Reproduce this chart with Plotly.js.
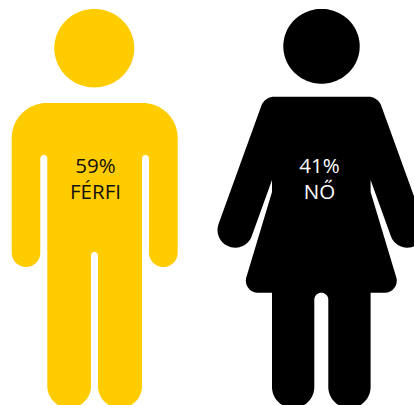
<!DOCTYPE html>
<html><head><meta charset="utf-8">
<script src="https://cdn.plot.ly/plotly-3.0.1.min.js"></script>
<style>html,body{margin:0;padding:0;background:#fff}#c{width:414px;height:405px}</style>
</head><body><div id="c"></div>
<script>
const categories = ['FÉRFI', 'NŐ'];
const shares = [59, 41];
const colours = ['#FFCC00', '#000000'];
const textColours = ['#111111', '#FFFFFF'];
const labelX = [95.5, 319.5];
const labelY = [181, 181];
// heads: centre x, centre y, radius x, radius y
const manHead = [94.3, 48.2, 40, 39.2];
const womanHead = [321.5, 46.3, 38.2, 37.4];
// outlines: x, y, corner radius
const manBody = [
  [11.7,103,35],[177.7,103,35],[177.7,267,14.3],[149,267,14.3],[149,155,3.5],[142,155,3.5],
  [142,408,21.9],[98,408,21.9],[98,252,3.5],[91,252,3.5],[91,408,21.9],[47.3,408,21.9],
  [47.3,155,3.5],[40.3,155,3.5],[40.3,267,14.3],[11.7,267,14.3]
];
const womanBody = [
  [264.6,96.7,14],[378,96.7,14],[430,240.5,17.6],[396.8,252.7,17.6],[370.6,180,0],[370.6,192,0],
  [400.9,292.7,12],[370.6,292.7,0],[370.6,408,21],[328.3,408,21],[328.3,292.7,7],[314.3,292.7,7],
  [314.3,408,21],[272,408,21],[272,292.7,0],[241.7,292.7,12],[272,192,0],[272,180,0],
  [245.8,252.7,17.6],[212.6,240.5,17.6]
];
function rounded(v){
  const xs=[],ys=[],n=v.length;
  for(let i=0;i<n;i++){
    const [px,py,r]=v[i],[ax,ay]=v[(i+n-1)%n],[bx,by]=v[(i+1)%n];
    if(!r){xs.push(px);ys.push(py);continue;}
    let ux=ax-px,uy=ay-py,wx=bx-px,wy=by-py;
    const lu=Math.hypot(ux,uy),lw=Math.hypot(wx,wy);
    ux/=lu;uy/=lu;wx/=lw;wy/=lw;
    const ang=Math.acos(ux*wx+uy*wy),d=r/Math.tan(ang/2);
    const mx=ux+wx,my=uy+wy,ml=Math.hypot(mx,my),h=r/Math.sin(ang/2);
    const cx=px+mx/ml*h,cy=py+my/ml*h;
    let a0=Math.atan2(py+uy*d-cy,px+ux*d-cx),a1=Math.atan2(py+wy*d-cy,px+wx*d-cx),da=a1-a0;
    while(da>Math.PI)da-=2*Math.PI;
    while(da<-Math.PI)da+=2*Math.PI;
    for(let k=0;k<=24;k++){const t=a0+da*k/24;xs.push(cx+r*Math.cos(t));ys.push(cy+r*Math.sin(t));}
  }
  xs.push(xs[0]);ys.push(ys[0]);
  return {xs,ys};
}
function oval(h){
  const xs=[],ys=[];
  for(let k=0;k<=120;k++){const t=2*Math.PI*k/120;xs.push(h[0]+h[2]*Math.cos(t));ys.push(h[1]+h[3]*Math.sin(t));}
  return {xs,ys};
}
function fig(o,c,name){
  return {type:'scatter',mode:'lines',x:o.xs,y:o.ys,fill:'toself',fillcolor:c,line:{width:0,color:c,simplify:false},name:name,hoverinfo:'skip',showlegend:false};
}
const traces=[
  fig(oval(manHead),colours[0],categories[0]),
  fig(rounded(manBody),colours[0],categories[0]),
  fig(oval(womanHead),colours[1],categories[1]),
  fig(rounded(womanBody),colours[1],categories[1]),
  {type:'scatter',mode:'text',x:labelX,y:labelY,
   text:categories.map((c,i)=>shares[i]+'%<br>'+c),
   textposition:'middle center',
   textfont:{family:'"Open Sans", sans-serif',size:20.5,color:textColours},
   hoverinfo:'skip',showlegend:false}
];
const layout={
  width:414,height:405,margin:{l:0,r:0,t:0,b:0,pad:0},
  paper_bgcolor:'#fff',plot_bgcolor:'#fff',showlegend:false,
  xaxis:{range:[0,414],visible:false,fixedrange:true},
  yaxis:{range:[405,0],visible:false,fixedrange:true}
};
Plotly.newPlot('c',traces,layout,{displayModeBar:false,staticPlot:true});
</script></body></html>
